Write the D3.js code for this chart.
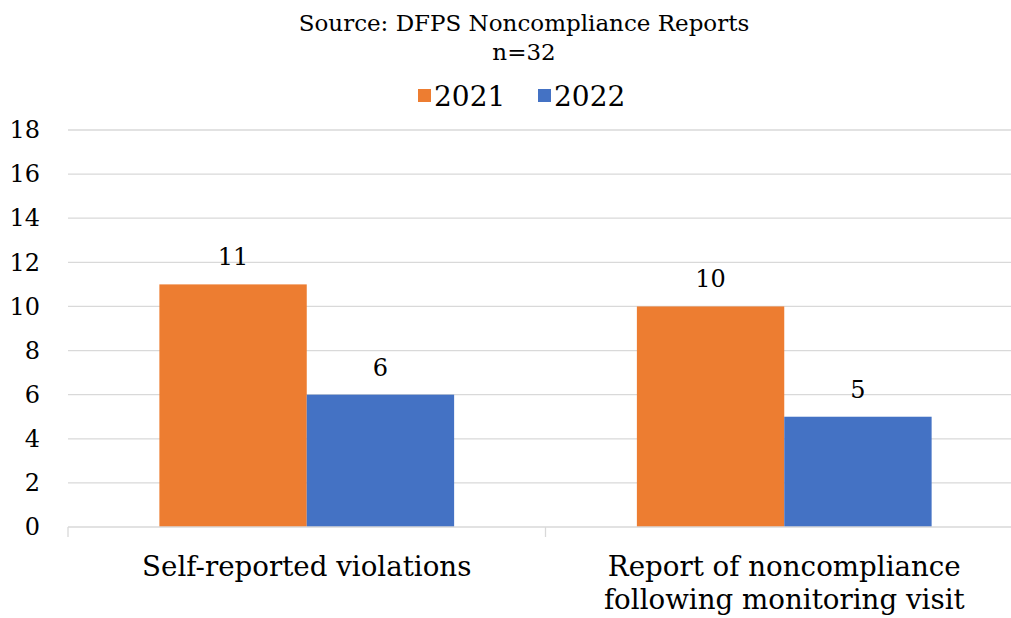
<!DOCTYPE html>
<html>
    <head>
        <meta charset="utf-8">
        <title>DFPS Noncompliance</title>
        <script src="https://d3js.org/d3.v7.min.js"></script>
        <style>
            body { margin: 0; background: #fff; }
        </style>
    </head>
    <body>
        <script>

        // Data
        const categories = ["Self-reported violations", "Report of noncompliance following monitoring visit"];
        const categoryLines = [["Self-reported violations"], ["Report of noncompliance", "following monitoring visit"]];
        const seriesNames = ["2021", "2022"];
        const values2021 = [11, 10];
        const values2022 = [6, 5];
        const yTicks = [0, 2, 4, 6, 8, 10, 12, 14, 16, 18];
        const colors = ["#ed7d31", "#4472c4"];

        const font = "DejaVu Serif";
        const svgWidth = 1011;
        const svgHeight = 618;
        const margin = { top: 130, right: -12, bottom: 91, left: 68 };

        const svg = d3.select("body").append("svg")
            .attr("width", svgWidth)
            .attr("height", svgHeight)
            .style("display", "block");

        const data = categories.map((c, i) => ({ cat: c, vals: [values2021[i], values2022[i]] }));

        // Scales
        const x0 = d3.scaleBand()
            .domain(categories)
            .range([margin.left, svgWidth - margin.right])
            .paddingInner(0)
            .paddingOuter(0);

        const x1 = d3.scaleBand()
            .domain(seriesNames)
            .range([0, x0.bandwidth()])
            .paddingOuter(0.62)
            .paddingInner(0);

        const y = d3.scaleLinear()
            .domain([0, 18])
            .range([svgHeight - margin.bottom, margin.top]);

        // Gridlines
        svg.append("g")
            .selectAll("line")
            .data(yTicks.filter(d => d > 0))
            .join("line")
            .attr("x1", margin.left)
            .attr("x2", svgWidth)
            .attr("y1", d => y(d))
            .attr("y2", d => y(d))
            .attr("stroke", "#d9d9d9")
            .attr("stroke-width", 1.3);

        // Y axis labels
        const yAxis = d3.axisLeft(y).tickValues(yTicks).tickSize(0).tickPadding(28);
        svg.append("g")
            .attr("transform", `translate(${margin.left},0)`)
            .call(yAxis)
            .call(g => g.select(".domain").remove())
            .selectAll("text")
            .attr("font-family", font)
            .attr("font-size", 24)
            .attr("fill", "#000");

        // Bars
        const groups = svg.append("g")
            .selectAll("g")
            .data(data)
            .join("g")
            .attr("transform", d => `translate(${x0(d.cat)},0)`);

        groups.selectAll("rect")
            .data(d => d.vals.map((v, i) => ({ key: seriesNames[i], v, i })))
            .join("rect")
            .attr("x", d => x1(d.key))
            .attr("width", x1.bandwidth())
            .attr("y", d => y(d.v))
            .attr("height", d => y(0) - y(d.v))
            .attr("fill", d => colors[d.i]);

        groups.selectAll("text.val")
            .data(d => d.vals.map((v, i) => ({ key: seriesNames[i], v })))
            .join("text")
            .attr("class", "val")
            .attr("x", d => x1(d.key) + x1.bandwidth() / 2)
            .attr("y", d => y(d.v) - 19)
            .attr("text-anchor", "middle")
            .attr("font-family", font)
            .attr("font-size", 24)
            .text(d => d.v);

        // X axis baseline and ticks
        const xAxis = svg.append("g");
        xAxis.append("line")
            .attr("x1", margin.left)
            .attr("x2", svgWidth)
            .attr("y1", y(0))
            .attr("y2", y(0))
            .attr("stroke", "#d9d9d9")
            .attr("stroke-width", 1.3);
        xAxis.selectAll("line.tick")
            .data(categories)
            .join("line")
            .attr("class", "tick")
            .attr("x1", d => x0(d))
            .attr("x2", d => x0(d))
            .attr("y1", y(0))
            .attr("y2", y(0) + 10)
            .attr("stroke", "#d9d9d9")
            .attr("stroke-width", 1.3);

        // Category labels
        xAxis.selectAll("text")
            .data(categories)
            .join("text")
            .attr("x", d => x0(d) + x0.bandwidth() / 2)
            .attr("y", 576)
            .attr("text-anchor", "middle")
            .attr("font-family", font)
            .attr("font-size", 27.7)
            .each(function(d, i) {
                d3.select(this).selectAll("tspan")
                    .data(categoryLines[i])
                    .join("tspan")
                    .attr("x", x0(d) + x0.bandwidth() / 2)
                    .attr("dy", (t, j) => j === 0 ? 0 : 33)
                    .text(t => t);
            });

        // Title
        svg.append("text")
            .attr("x", 524)
            .attr("y", 31)
            .attr("text-anchor", "middle")
            .attr("font-family", font)
            .attr("font-size", 23)
            .text("Source: DFPS Noncompliance Reports");
        svg.append("text")
            .attr("x", 524)
            .attr("y", 60)
            .attr("text-anchor", "middle")
            .attr("font-family", font)
            .attr("font-size", 23)
            .text("n=32");

        // Legend
        const legend = svg.append("g");
        const legendX = [418, 538];
        seriesNames.forEach((s, i) => {
            legend.append("rect")
                .attr("x", legendX[i])
                .attr("y", 89)
                .attr("width", 13)
                .attr("height", 13)
                .attr("fill", colors[i]);
            legend.append("text")
                .attr("x", legendX[i] + 16)
                .attr("y", 106)
                .attr("font-family", font)
                .attr("font-size", 28)
                .text(s);
        });

        </script>
    </body>
</html>
